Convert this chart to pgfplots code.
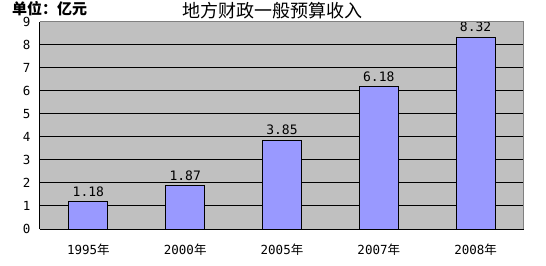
\documentclass[border=0pt]{standalone}
\usepackage{pgfplots}
\pgfplotsset{compat=1.18}
\usepackage{fontspec}
\setmainfont{Noto Sans CJK SC}
\newfontfamily\mono{DejaVu Sans Mono}
\definecolor{barc}{HTML}{9999FF}
\definecolor{bgc}{HTML}{C0C0C0}
\definecolor{brd}{HTML}{808080}
\begin{document}
\begin{tikzpicture}
\useasboundingbox (-40pt,-36pt) rectangle (506pt,229pt);
\begin{axis}[
  at={(0pt,0pt)}, anchor=south west,
  scale only axis, width=484pt, height=207.5pt,
  xmin=-0.5, xmax=4.5, ymin=0, ymax=9,
  axis lines*=left,
  axis line style={black, line width=1pt},
  axis background/.style={fill=bgc},
  ymajorgrids, grid style={black, line width=1pt},
  ytick={0,...,9},
  ytick style={draw=none},
  /pgf/number format/assume math mode=true,
  yticklabel style={font=\mono\fontsize{12.5}{13}\selectfont, xshift=-6pt},
  xtick={0,...,4},
  xticklabels={{\mono 1995}年,{\mono 2000}年,{\mono 2005}年,{\mono 2007}年,{\mono 2008}年},
  xticklabel style={font=\fontsize{12.5}{13}\selectfont, yshift=-7pt},
  major x tick style={draw=none},
  extra x ticks={0.5,1.5,2.5,3.5},
  extra x tick labels={},
  extra x tick style={major tick length=3pt, tick align=inside, tick style={black, line width=1pt, draw=black}, grid=none},
  ybar, bar width=39pt,
  nodes near coords,
  nodes near coords style={font=\mono\fontsize{13}{13}\selectfont, yshift=1.5pt, /pgf/number format/.cd, fixed, fixed zerofill, precision=2},
  clip=false,
  after end axis/.code={\draw[brd, line width=1pt] (rel axis cs:0,1) -- (rel axis cs:1,1) -- (rel axis cs:1,0);},
]
\addplot[fill=barc, draw=black, line width=1pt] coordinates {(0,1.18) (1,1.87) (2,3.85) (3,6.18) (4,8.32)};
\end{axis}
\node[font=\fontsize{18}{18}\selectfont] at (232pt,218.5pt) {地方财政一般预算收入};
\node[font=\bfseries\fontsize{15}{15}\selectfont, anchor=west, inner sep=0pt] at (-28pt,220.5pt) {单位：亿元};
\end{tikzpicture}
\end{document}
